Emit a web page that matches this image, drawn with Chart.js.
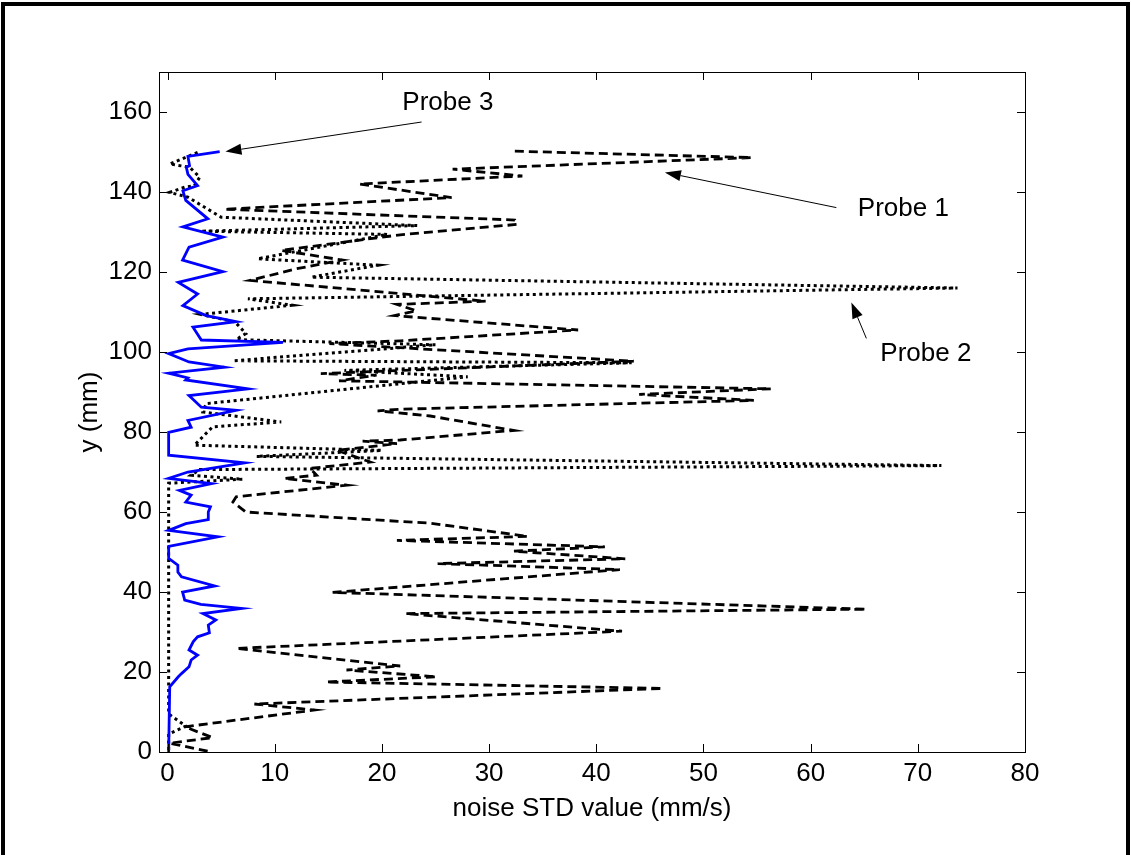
<!DOCTYPE html>
<html>
<head>
<meta charset="utf-8">
<script src="https://cdn.jsdelivr.net/npm/chart.js@4.4.1/dist/chart.umd.min.js"></script>
<style>
  html, body { margin: 0; padding: 0; background: #fff; }
  canvas { display: block; }
</style>
</head>
<body>
<canvas id="noiseChart" width="1131" height="855"></canvas>
<script>
// tick labels
const xTicks = [0, 10, 20, 30, 40, 50, 60, 70, 80];
const yTicks = [0, 20, 40, 60, 80, 100, 120, 140, 160];

// Probe 1 (dashed) - noise STD (mm/s) and height y (mm), read top to bottom
const probe1X = [32.4, 54.5, 26.6, 33.1, 17.9, 26.5, 5.3, 32.4, 32.6, 21.7, 10.6, 16.3, 12.0, 7.7,
  29.7, 21.4, 23.2, 21.2, 38.3, 21.7, 15.1, 43.5, 14.3, 19.5, 16.0, 56.3, 44.0, 54.7, 21.7, 19.6,
  24.5, 32.3, 21.7, 18.2, 21.4, 15.8, 18.9, 13.3, 13.9, 10.9, 16.7, 6.4, 6.1, 7.3, 24.5, 33.6,
  21.4, 40.8, 32.3, 42.7, 25.2, 42.2, 15.4, 65.2, 22.2, 42.4, 6.4, 21.7, 16.7, 25.1, 14.8, 46.2,
  8.1, 13.7, 1.6, 4.2, 0.2, 3.9];
const probe1Y = [150.2, 148.6, 145.7, 144.0, 142.0, 138.6, 135.7, 133.0, 131.9, 129.3, 125.4, 123.0, 120.8, 117.9,
  112.7, 111.9, 110.3, 109.1, 105.5, 102.8, 102.1, 97.7, 94.6, 94.2, 92.8, 90.8, 89.4, 87.9, 85.7, 85.3,
  84.0, 80.4, 78.0, 77.7, 77.1, 75.4, 72.5, 70.9, 69.2, 68.4, 66.7, 63.8, 62.5, 60.0, 57.2, 53.9,
  52.9, 51.3, 50.2, 48.3, 47.1, 45.6, 39.9, 35.7, 34.6, 30.2, 25.9, 21.5, 20.5, 18.8, 17.5, 15.9,
  12.0, 10.5, 6.3, 3.6, 2.2, 0.1];

// Probe 2 (dotted)
const probe2X = [2.8, 0.2, 2.05, 3.0, 2.5, 1.6, 0.2, 1.9, 5.0, 23.3, 3.1, 20.5, 8.4, 19.6, 13.4, 73.7,
  7.5, 11.6, 3.1, 6.3, 7.3, 6.4, 25.0, 6.1, 43.3, 16.5, 28.0, 3.6, 3.3, 10.6, 4.2, 2.5, 20.0, 8.3,
  72.2, 3.0, 2.2, 7.0, 0.1, 0.1, 1.7, 0.1, 0.1];
const probe2Y = [149.9, 147.0, 146.2, 143.7, 141.6, 141.2, 139.9, 138.7, 133.7, 131.6, 130.2, 129.4, 123.3, 121.7, 118.7, 116.0,
  113.3, 111.7, 109.4, 107.5, 104.6, 103.1, 101.8, 97.8, 97.3, 95.4, 93.8, 87.1, 85.0, 82.5, 81.3, 76.7, 75.4, 73.9,
  71.6, 70.6, 69.2, 68.2, 67.2, 9.5, 6.5, 4.5, 0.0];

// Probe 3 (solid blue)
const probe3X = [4.86, 1.9, 2.05, 1.75, 1.9, 2.8, 1.43, 1.7, 3.76, 1.43, 5.16, 2.0, 1.4, 5.16, 1.0, 2.8,
  1.43, 3.6, 6.41, 2.37, 3.15, 10.77, 1.9, 0.1, 2.0, 5.3, 0.1, 1.9, 1.7, 7.5, 2.0, 3.15, 6.4, 1.9,
  2.2, 0.1, 0.1, 7.2, 1.9, 0.1, 4.1, 1.1, 2.2, 1.7, 4.0, 3.8, 3.8, 1.7, 0.1, 4.7, 0.1, 0.1, 0.96,
  0.96, 1.3, 4.4, 1.4, 1.6, 3.1, 6.9, 3.3, 4.5, 3.8, 3.9, 2.8, 2.4, 2.0, 2.8, 2.2, 2.0, 1.3, 1.0,
  0.2, 0.1];
const probe3Y = [150.1, 148.9, 146.6, 146.2, 144.4, 141.6, 140.3, 137.9, 133.3, 131.3, 128.7, 126.2, 123.0, 120.1, 117.4, 114.5,
  111.6, 109.1, 107.6, 106.2, 103.0, 102.4, 100.8, 99.6, 97.5, 96.2, 94.7, 93.5, 93.0, 90.8, 89.1, 86.2, 85.4, 82.9,
  81.2, 79.9, 74.2, 72.3, 70.0, 68.4, 67.1, 65.4, 64.2, 62.5, 61.3, 60.0, 58.1, 57.1, 55.4, 53.8, 51.4, 48.4, 46.7,
  45.0, 43.8, 41.5, 40.0, 38.0, 36.9, 35.9, 34.6, 33.0, 31.7, 29.8, 28.8, 27.6, 25.5, 24.2, 23.0, 21.3, 19.6, 18.8,
  16.3, 0.0];

const toPoints = (xs, ys) => xs.map((v, i) => ({ x: v, y: ys[i] }));

// text labels with arrows, in data units: text baseline start, arrow tail, arrow tip
const notes = [
  { text: 'Probe 3', tx: 21.9, ty: 160.4, fx: 23.7, fy: 157.5, hx: 5.4, hy: 150.1 },
  { text: 'Probe 1', tx: 64.4, ty: 134.1, fx: 62.4, fy: 136.1, hx: 46.4, hy: 144.9 },
  { text: 'Probe 2', tx: 66.5, ty: 97.7, fx: 65.2, fy: 103.4, hx: 63.8, hy: 112.4 }
];

const FONT = '"Liberation Sans", Arial, Helvetica, sans-serif';
const FONT_SIZE = 26;

const boxPlugin = {
  id: 'boxPlugin',
  afterDraw(chart) {
    const { ctx, chartArea: a, scales: { x, y } } = chart;
    ctx.save();
    // figure frame (no bottom edge)
    ctx.fillStyle = '#000';
    ctx.fillRect(1, 2, 1129, 4);
    ctx.fillRect(1, 2, 4, 853);
    ctx.fillRect(1126, 2, 4, 853);

    // axes box + inward ticks
    ctx.strokeStyle = '#000';
    ctx.lineWidth = 1;
    ctx.strokeRect(a.left + 0.5, a.top + 0.5, a.right - a.left, a.bottom - a.top);
    ctx.beginPath();
    xTicks.forEach(v => {
      const px = Math.round(x.getPixelForValue(v)) + 0.5;
      ctx.moveTo(px, a.bottom); ctx.lineTo(px, a.bottom - 8);
      ctx.moveTo(px, a.top); ctx.lineTo(px, a.top + 8);
    });
    yTicks.forEach(v => {
      const py = Math.round(y.getPixelForValue(v)) + 0.5;
      ctx.moveTo(a.left, py); ctx.lineTo(a.left + 8, py);
      ctx.moveTo(a.right, py); ctx.lineTo(a.right - 8, py);
    });
    ctx.stroke();

    // annotations
    ctx.font = FONT_SIZE + 'px ' + FONT;
    ctx.textBaseline = 'alphabetic';
    ctx.textAlign = 'left';
    notes.forEach(n => {
      ctx.fillStyle = '#000';
      ctx.fillText(n.text, x.getPixelForValue(n.tx), y.getPixelForValue(n.ty));
      const x0 = x.getPixelForValue(n.fx), y0 = y.getPixelForValue(n.fy);
      const x1 = x.getPixelForValue(n.hx), y1 = y.getPixelForValue(n.hy);
      const ang = Math.atan2(y1 - y0, x1 - x0);
      const len = 16, half = 5.5;
      const bx = x1 - len * Math.cos(ang), by = y1 - len * Math.sin(ang);
      ctx.beginPath();
      ctx.moveTo(x0, y0); ctx.lineTo(bx, by);
      ctx.stroke();
      ctx.beginPath();
      ctx.moveTo(x1, y1);
      ctx.lineTo(bx + half * Math.sin(ang), by - half * Math.cos(ang));
      ctx.lineTo(bx - half * Math.sin(ang), by + half * Math.cos(ang));
      ctx.closePath();
      ctx.fill();
    });
    ctx.restore();
  }
};

const ctx = document.getElementById('noiseChart').getContext('2d');
const noiseChart = new Chart(ctx, {
  type: 'scatter',
  data: {
    datasets: [
      {
        label: 'Probe 3',
        data: toPoints(probe3X, probe3Y),
        showLine: true,
        borderColor: '#0000ff',
        borderWidth: 2.8,
        pointRadius: 0,
        order: 0
      },
      {
        label: 'Probe 2',
        data: toPoints(probe2X, probe2Y),
        showLine: true,
        borderColor: '#000',
        borderWidth: 3,
        borderDash: [3, 3.5],
        pointRadius: 0,
        order: 1
      },
      {
        label: 'Probe 1',
        data: toPoints(probe1X, probe1Y),
        showLine: true,
        borderColor: '#000',
        borderWidth: 2.8,
        borderDash: [9, 5],
        pointRadius: 0,
        order: 2
      }
    ]
  },
  options: {
    responsive: false,
    animation: false,
    layout: { padding: { top: 72, right: 106, left: 0, bottom: 0 } },
    plugins: {
      legend: { display: false },
      tooltip: { enabled: false }
    },
    scales: {
      x: {
        type: 'linear',
        min: -0.8,
        max: 80,
        grid: { display: false, drawTicks: false },
        border: { display: false },
        afterBuildTicks: s => { s.ticks = xTicks.map(v => ({ value: v })); },
        afterFit: s => { s.height = 103; },
        ticks: { color: '#000', padding: 6, font: { size: FONT_SIZE, family: FONT }, maxRotation: 0 },
        title: {
          display: true,
          text: 'noise STD value (mm/s)',
          color: '#000',
          font: { size: FONT_SIZE, family: FONT },
          padding: { top: 0, bottom: 31 }
        }
      },
      y: {
        type: 'linear',
        min: 0,
        max: 170,
        grid: { display: false, drawTicks: false },
        border: { display: false },
        afterBuildTicks: s => { s.ticks = yTicks.map(v => ({ value: v })); },
        afterFit: s => { s.width = 159; },
        ticks: { color: '#000', padding: 7, font: { size: FONT_SIZE, family: FONT } },
        title: {
          display: true,
          text: 'y (mm)',
          color: '#000',
          font: { size: FONT_SIZE, family: FONT },
          padding: { top: 74, bottom: 0 }
        }
      }
    }
  },
  plugins: [boxPlugin]
});
</script>
</body>
</html>
